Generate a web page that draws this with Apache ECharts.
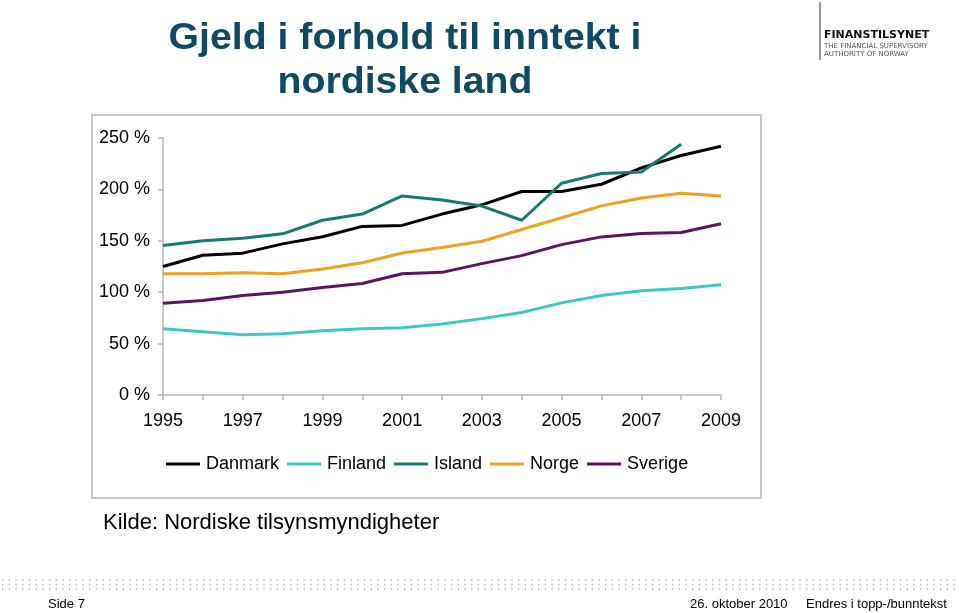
<!DOCTYPE html>
<html>
<head>
<meta charset="utf-8">
<script src="https://cdn.jsdelivr.net/npm/echarts@6/dist/echarts.min.js"></script>
<style>
html,body{margin:0;padding:0;background:#fff;}
#chart{width:959px;height:613px;}
</style>
</head>
<body>
<div id="chart"></div>
<script>
var years = ['1995','1996','1997','1998','1999','2000','2001','2002','2003','2004','2005','2006','2007','2008','2009'];
var danmark = [125, 136, 138, 147, 154, 164, 165, 176, 185, 198, 198, 205, 221, 233, 242];
var finland = [64.5, 61.6, 58.7, 59.6, 62.6, 64.5, 65.5, 69, 74.3, 80.2, 89.6, 96.8, 101.4, 103.7, 107.2];
var island = [145.4, 150, 152.5, 156.8, 170, 176, 193.6, 189.7, 183.8, 170, 206, 215.4, 217, 244, null];
var norge = [118, 118, 119, 118, 122.6, 128.7, 138.2, 143.4, 149.6, 161, 172.4, 184, 191.6, 196.2, 193.6];
var sverige = [89.3, 92, 96.8, 100, 104.6, 108.5, 118, 119.3, 127.8, 135.6, 146.3, 153.8, 157, 158, 166.6];
var seriesNames = ['Danmark', 'Finland', 'Island', 'Norge', 'Sverige'];
var seriesColors = ['#000000', '#3cc9c6', '#167a72', '#f0a022', '#5c1462'];

var chart = echarts.init(document.getElementById('chart'));
var font = 'Liberation Sans, Arial, Helvetica, sans-serif';
var dataSets = [danmark, finland, island, norge, sverige];

var series = seriesNames.map(function (n, i) {
  return {
    name: n, type: 'line', data: dataSets[i], showSymbol: false, symbol: 'none',
    connectNulls: false,
    lineStyle: { color: seriesColors[i], width: 3 },
    itemStyle: { color: seriesColors[i] },
    emphasis: { disabled: true },
    animation: false
  };
});

var dotRows = [580, 584.5, 589].map(function (y) {
  return {
    type: 'line', silent: true,
    shape: { x1: 2, y1: y, x2: 959, y2: y },
    style: { stroke: '#a9b4bd', lineWidth: 1.4, lineDash: [1.4, 5.3] }
  };
});

chart.setOption({
  backgroundColor: '#ffffff',
  animation: false,
  grid: { left: 163, right: 238, top: 138, bottom: 218, containLabel: false },
  legend: {
    data: seriesNames,
    left: 161, top: 450,
    icon: 'rect', itemWidth: 34, itemHeight: 3, itemGap: 8,
    textStyle: { fontSize: 18, fontFamily: font, color: '#000', padding: [0, 0, 0, 1] }
  },
  xAxis: {
    type: 'category', data: years, boundaryGap: false,
    axisLine: { lineStyle: { color: '#b8b8b8', width: 1.5 } },
    axisTick: { show: true, interval: 0, length: 5, lineStyle: { color: '#b8b8b8', width: 1.5 } },
    axisLabel: { interval: 1, fontSize: 18, fontFamily: font, color: '#000', margin: 17 },
    splitLine: { show: false }
  },
  yAxis: {
    type: 'value', min: 0, max: 250, interval: 50,
    axisLine: { show: true, lineStyle: { color: '#b8b8b8', width: 1.5 } },
    axisTick: { show: true, length: 5, lineStyle: { color: '#b8b8b8', width: 1.5 } },
    axisLabel: { fontSize: 18, fontFamily: font, color: '#000', margin: 13,
      formatter: function (v) { return v + ' %'; } },
    splitLine: { show: false }
  },
  series: series,
  graphic: [
    { type: 'rect', silent: true, z: -1,
      shape: { x: 92, y: 115, width: 669, height: 383 },
      style: { fill: 'none', stroke: '#c8c8c8', lineWidth: 2 } },
    { type: 'text', silent: true, x: 405, y: 17, scaleX: 1.06,
      style: { text: 'Gjeld i forhold til inntekt i\nnordiske land', x: 0, y: 0,
        textAlign: 'center', fill: '#0e4a62', font: 'bold 37px ' + font, lineHeight: 44 } },
    { type: 'text', silent: true,
      style: { text: 'Kilde: Nordiske tilsynsmyndigheter', x: 103, y: 512,
        fill: '#000', font: '22px ' + font } },
    { type: 'line', silent: true,
      shape: { x1: 820, y1: 2, x2: 820, y2: 60 },
      style: { stroke: '#777', lineWidth: 1.5 } },
    { type: 'text', silent: true,
      style: { text: 'FINANSTILSYNET', x: 824, y: 30, fill: '#111',
        font: 'bold 11px DejaVu Sans, sans-serif' } },
    { type: 'text', silent: true,
      style: { text: 'THE FINANCIAL SUPERVISORY\nAUTHORITY OF NORWAY', x: 824, y: 42, fill: '#555',
        font: '7px DejaVu Sans, sans-serif', lineHeight: 8 } },
    { type: 'text', silent: true,
      style: { text: 'Side 7', x: 48, y: 598, fill: '#000', font: '13px ' + font } },
    { type: 'text', silent: true,
      style: { text: '26. oktober 2010', x: 690, y: 598, fill: '#000', font: '13px ' + font } },
    { type: 'text', silent: true,
      style: { text: 'Endres i topp-/bunntekst', x: 806, y: 598, fill: '#000', font: '13px ' + font } }
  ].concat(dotRows)
});
</script>
</body>
</html>
